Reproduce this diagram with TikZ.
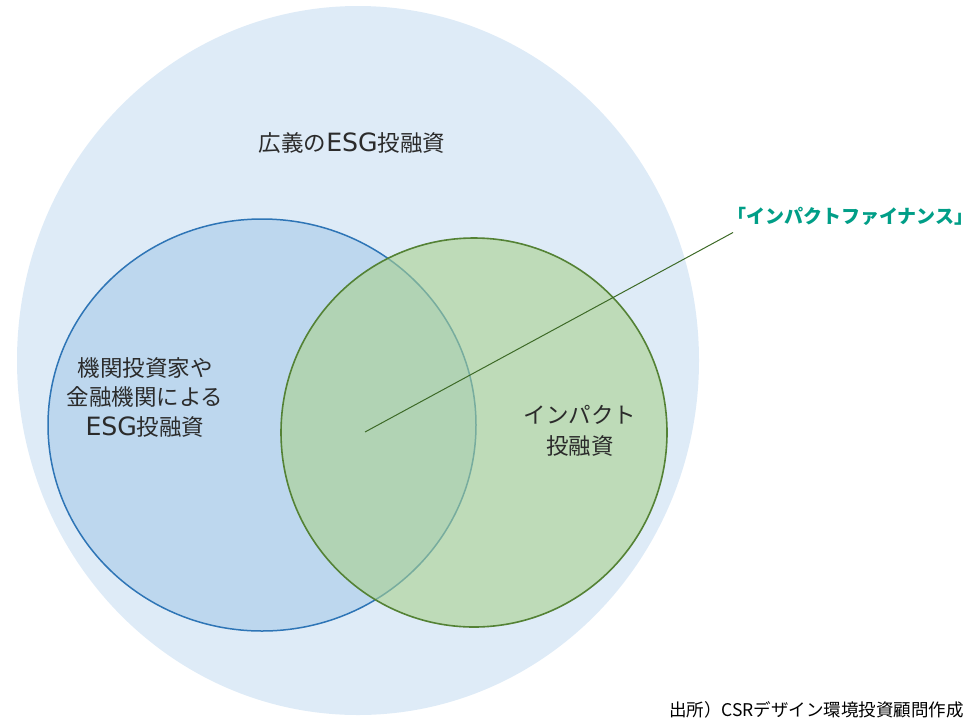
\documentclass[tikz,border=0pt]{standalone}
\usepackage{fontspec}
\setmainfont{Noto Sans CJK JP}
\newfontfamily\latf[Scale=1.12]{DejaVu Sans}
\newcommand{\esgword}{{\latf ESG}}
\definecolor{bigfill}{HTML}{DEEBF7}
\definecolor{bluefill}{HTML}{BDD7EE}
\definecolor{blueline}{HTML}{2E75B6}
\definecolor{greenfill}{HTML}{A9D18E}
\definecolor{greenline}{HTML}{548235}
\definecolor{leadline}{HTML}{3D6A27}
\definecolor{teallabel}{HTML}{009E87}
\definecolor{txt}{HTML}{2B2B2B}
\tikzset{
  lbl/.style={inner sep=0pt, align=center, text=txt, font=\fontsize{22.5}{29.5}\selectfont},
  biglabel/.style={inner sep=0pt, text=teallabel, font=\fontsize{19}{21}\selectfont\bfseries},
  srclabel/.style={inner sep=0pt, text=black, font=\fontsize{17.5}{20}\selectfont},
}
\begin{document}
\begin{tikzpicture}[x=1pt,y=-1pt]
\useasboundingbox (0,0) rectangle (976,718);
\clip (0,0) rectangle (976,718);
% broad ESG
\fill[bigfill] (358,360.5) ellipse [x radius=341pt, y radius=354.5pt];
% institutional ESG
\path[fill=bluefill, draw=blueline, line width=1.5pt] (262,425) ellipse [x radius=214pt, y radius=206pt];
% impact
\path[fill=greenfill, fill opacity=0.6, draw=greenline, line width=1.6pt] (474,432.5) ellipse [x radius=193pt, y radius=194.5pt];
% texts
\node[lbl] (title) at (352,143) {広義の\esgword 投融資};
\node[lbl] (inst) at (145,397) {機関投資家や\\金融機関による\\\esgword 投融資};
\node[lbl, font=\fontsize{22.5}{31}\selectfont] (imp) at (580,431) {インパクト\\投融資};
\node[biglabel, anchor=west] (fin) at (727,216) {「インパクトファイナンス」};
\node[srclabel, anchor=base west] (src) at (669,716.5) {出所）CSRデザイン環境投資顧問作成};
% leader
\coordinate (lead) at (365,432);
\coordinate (tip) at (733,232.5);
\draw[leadline, line width=1pt] (lead) -- (tip);
\end{tikzpicture}
\end{document}
